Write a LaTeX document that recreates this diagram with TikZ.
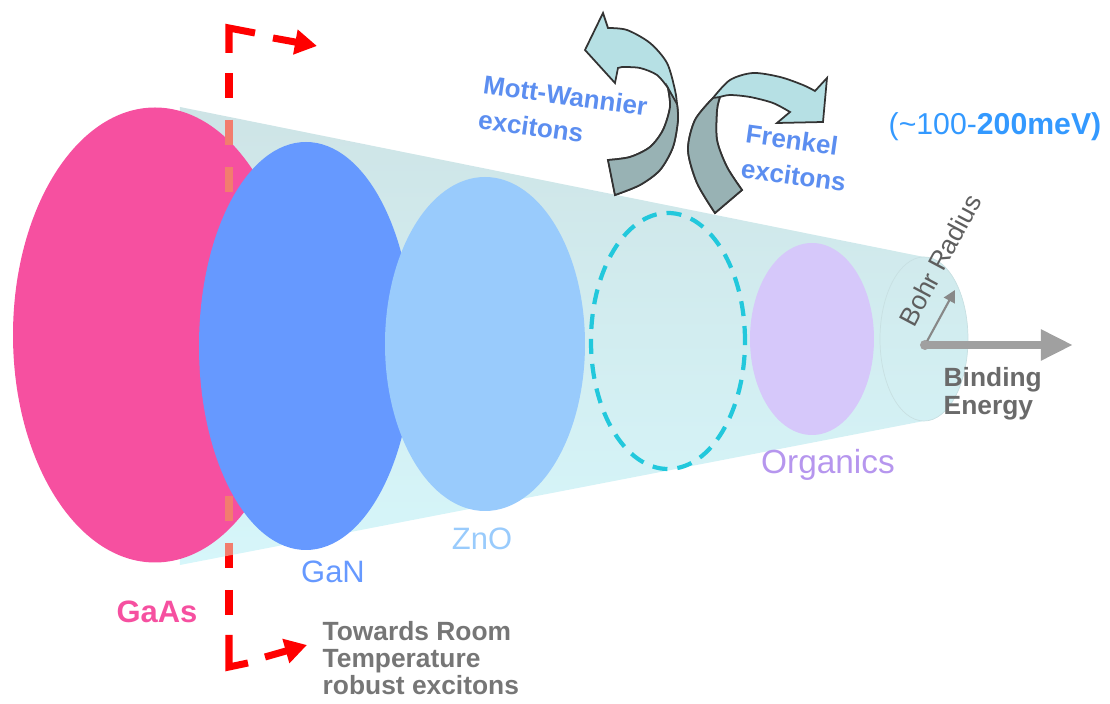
\documentclass[tikz,border=0pt]{standalone}
\usepackage{fontspec}
\setmainfont{Liberation Sans}
\usetikzlibrary{shapes.geometric,arrows.meta}

\definecolor{gaaspink}{RGB}{246,80,160}
\definecolor{ganblue}{RGB}{102,153,255}
\definecolor{znoblue}{RGB}{153,203,252}
\definecolor{orgviolet}{RGB}{214,200,250}
\definecolor{orgtext}{RGB}{182,150,238}
\definecolor{dashcyan}{RGB}{34,200,220}
\definecolor{conetop}{RGB}{206,228,230}
\definecolor{conebot}{RGB}{214,246,250}
\definecolor{capline}{RGB}{200,224,226}
\definecolor{ribbonlight}{RGB}{182,224,228}
\definecolor{ribbondark}{RGB}{152,178,180}
\definecolor{excblue}{RGB}{92,142,240}
\definecolor{mevblue}{RGB}{51,153,255}
\definecolor{txtgray}{RGB}{118,118,118}
\definecolor{arrgray}{RGB}{160,160,160}
\definecolor{salmon}{RGB}{242,125,110}

\begin{document}
\begin{tikzpicture}[
  disc/.style={ellipse, inner sep=0pt, fill=#1},
  lbl/.style={font=\fontsize{8.8}{10}\selectfont, text=#1},
  blbl/.style={font=\fontsize{7.4}{10}\selectfont\bfseries, text=#1, align=left},
  ribbon/.style={draw=black!80, line width=0.5pt},
  redline/.style={red, line width=2pt},
  redtip/.style={-{Triangle[length=2.2mm,width=2.4mm]}},
]
\useasboundingbox (0,0) rectangle (11.10,7.04);

% Cone
\path[top color=conetop, bottom color=conebot] (1.80,5.97) -- (9.24,4.47)
  arc[start angle=90, end angle=-90, x radius=0.44, y radius=0.82] -- (1.80,1.39) -- cycle;
\draw[capline, very thin] (9.24,3.65) ellipse[x radius=0.44, y radius=0.82];

\node[disc=gaaspink, minimum width=2.84cm, minimum height=4.55cm] (gaas) at (1.55,3.69) {};

% Room temperature bracket (behind the other materials)
\coordinate (ta) at (2.73,6.66);
\coordinate (tb) at (3.17,6.58);
\coordinate (ba) at (2.65,0.47);
\coordinate (bb) at (3.07,0.59);
\draw[redline] (2.29,6.51) -- (2.29,6.76) -- (2.55,6.71);
\draw[redline, redtip] (ta) -- (tb);
\draw[redline, dash pattern=on 0.25cm off 0.22cm] (2.29,6.31) -- (2.29,0.89);
\begin{scope}
  \clip (1.80,5.97) -- (9.24,4.47) -- (9.24,2.83) -- (1.80,1.39) -- cycle;
  \draw[redline, salmon, dash pattern=on 0.25cm off 0.22cm] (2.29,6.31) -- (2.29,0.89);
\end{scope}
\draw[redline] (2.29,0.69) -- (2.29,0.37) -- (2.48,0.41);
\draw[redline, redtip] (ba) -- (bb);

% Materials
\node[disc=ganblue, minimum width=2.14cm, minimum height=4.08cm] (gan) at (3.06,3.58) {};
\node[disc=znoblue, minimum width=2.00cm, minimum height=3.34cm] (zno) at (4.85,3.60) {};
\node[ellipse, inner sep=0pt, draw=dashcyan, line width=1.2pt, dash pattern=on 1.5mm off 1mm,
  minimum width=1.54cm, minimum height=2.56cm] (gap) at (6.68,3.63) {};
\node[disc=orgviolet, minimum width=1.24cm, minimum height=1.92cm] (org) at (8.12,3.65) {};

% Bohr radius and binding energy
\coordinate (o) at (9.25,3.59);
\coordinate (betip) at (10.73,3.59);
\coordinate (br) at (9.55,4.14);
\draw[arrgray, line width=2.4pt, line cap=round, -{Triangle[length=3.2mm,width=2.9mm]}] (o) -- (betip);
\draw[arrgray!85!black, line width=0.6pt, -{Triangle[length=1.2mm,width=1.2mm]}] (o) -- (br);
\fill[arrgray] (o) circle (0.05);

% Mott-Wannier ribbon
\filldraw[ribbon, fill=ribbonlight] (6.03,6.91) -- (6.08,6.76)
  -- plot[smooth] coordinates {(6.08,6.76) (6.27,6.74) (6.50,6.61) (6.67,6.41) (6.75,6.14) (6.77,6.00)}
  -- plot[smooth] coordinates {(6.77,6.00) (6.78,5.84) (6.73,5.57) (6.60,5.34) (6.40,5.19) (6.15,5.09)}
  -- (6.08,5.44)
  -- plot[smooth] coordinates {(6.08,5.44) (6.30,5.47) (6.50,5.57) (6.63,5.74) (6.70,5.97) (6.68,6.16)}
  -- plot[smooth] coordinates {(6.68,6.16) (6.57,6.29) (6.40,6.36) (6.22,6.37)}
  -- (6.18,6.36) -- (6.15,6.21) -- (5.85,6.54) -- cycle;
\filldraw[ribbon, fill=ribbondark] (6.15,5.09) -- (6.08,5.44)
  -- plot[smooth] coordinates {(6.08,5.44) (6.30,5.47) (6.50,5.57) (6.63,5.74) (6.70,5.97) (6.68,6.16)}
  -- (6.77,6.00)
  -- plot[smooth] coordinates {(6.77,6.00) (6.78,5.84) (6.73,5.57) (6.60,5.34) (6.40,5.19) (6.15,5.09)}
  -- cycle;

% Frenkel ribbon
\filldraw[ribbon, fill=ribbonlight] (7.15,4.91)
  -- plot[smooth] coordinates {(7.15,4.91) (6.97,5.21) (6.88,5.54) (6.95,5.84) (7.13,6.06)}
  -- plot[smooth] coordinates {(7.13,6.06) (7.30,6.24) (7.53,6.31) (7.80,6.27) (8.03,6.19) (8.15,6.13)}
  -- (8.27,6.26) -- (8.23,5.82) -- (7.77,5.81) -- (7.90,5.92)
  -- plot[smooth] coordinates {(7.90,5.92) (7.73,6.01) (7.50,6.07) (7.30,6.09) (7.20,6.07)}
  -- plot[smooth] coordinates {(7.20,6.07) (7.17,5.94) (7.17,5.64) (7.27,5.37) (7.42,5.14)}
  -- cycle;
\filldraw[ribbon, fill=ribbondark] (7.15,4.91)
  -- plot[smooth] coordinates {(7.15,4.91) (6.97,5.21) (6.88,5.54) (6.95,5.84) (7.13,6.06)}
  -- (7.20,6.07)
  -- plot[smooth] coordinates {(7.20,6.07) (7.17,5.94) (7.17,5.64) (7.27,5.37) (7.42,5.14)}
  -- cycle;

% Labels
\node[lbl=gaaspink, font=\fontsize{8.8}{10}\selectfont\bfseries] (gaasl) at (1.57,0.92) {GaAs};
\node[lbl=ganblue] (ganl) at (3.33,1.32) {GaN};
\node[lbl=znoblue] (znol) at (4.82,1.65) {ZnO};
\node[lbl=orgtext, font=\fontsize{9.5}{10}\selectfont] (orgl) at (8.28,2.39) {Organics};
\node[blbl=excblue, rotate=-8] (mw) at (5.63,5.91) {Mott-Wannier\\excitons};
\node[blbl=excblue, rotate=-8] (fr) at (7.96,5.46) {Frenkel\\excitons};
\node[text=mevblue, font=\fontsize{8.6}{10}\selectfont] (mev) at (9.95,5.77) {(\textasciitilde100-\textbf{200meV)}};
\node[font=\fontsize{7.5}{7.7}\selectfont\bfseries, text=txtgray, align=left, anchor=north west, inner sep=0pt]
  (room) at (3.22,0.83) {Towards Room\\Temperature\\robust excitons};
\node[font=\fontsize{7.5}{8}\selectfont\bfseries, text=txtgray!90!black, align=left, anchor=north west, inner sep=0pt]
  (bel) at (9.43,3.37) {Binding\\Energy};
\node[font=\fontsize{7.5}{9}\selectfont, text=txtgray!80!black, rotate=62, inner sep=1pt] (bohr) at (9.40,4.44) {Bohr Radius};
\end{tikzpicture}
\end{document}
